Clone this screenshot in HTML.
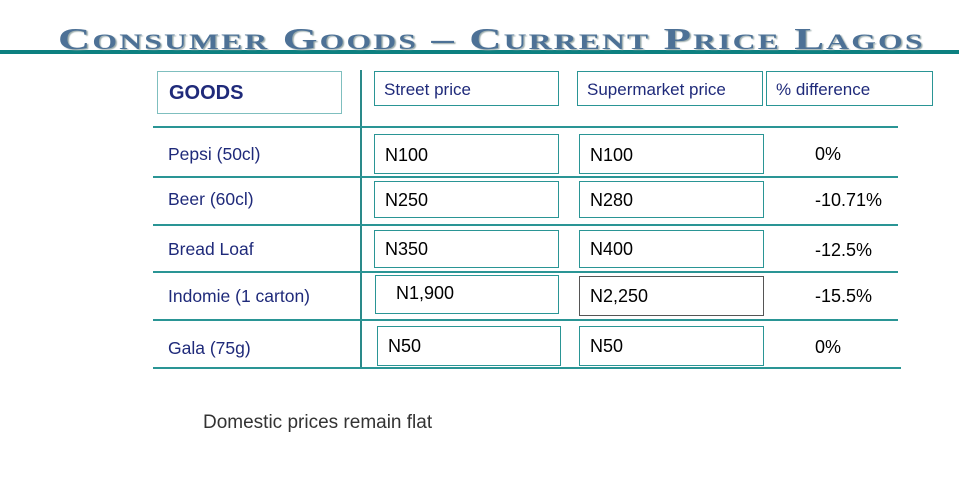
<!DOCTYPE html>
<html><head><meta charset="utf-8"><style>
body{margin:0;width:959px;height:501px;background:#fff;position:relative;overflow:hidden;font-family:"Liberation Sans",sans-serif}
.a{position:absolute}
.t{left:58px;top:21px;font-family:"Liberation Serif",serif;font-weight:bold;font-size:31px;letter-spacing:1.5px;color:#4d7196;text-shadow:1px 1px 1px #9aa;white-space:nowrap;font-variant:small-caps;transform:scaleX(1.44);transform-origin:left}
.bar{left:0;top:50px;width:959px;height:4px;background:#0d8080}
.box{border:1.5px solid #2a9595;box-sizing:border-box}
.h{color:#1f2a7a;font-size:17px;padding:8px 0 0 9px}
.lab{color:#1f2a7a;font-size:17.5px;left:168px}
.v{color:#000;font-size:18px;padding:10px 0 0 10px}
.hl{height:2px;background:#2a9595;left:153px;width:745px}
.p{font-size:18px;color:#000}
</style></head><body>
<div class="a bar"></div>
<div class="a t">Consumer Goods – Current Price Lagos</div>
<div class="a box" style="left:157px;top:71px;width:185px;height:43px;border-color:#7fbfbf"><div style="color:#1f2a7a;font-weight:bold;font-size:20px;padding:10px 0 0 11px">GOODS</div></div>
<div class="a" style="left:360px;top:70px;width:1.5px;height:299px;background:#2a8a8a"></div>
<div class="a box h" style="left:374px;top:71px;width:185px;height:35px">Street price</div>
<div class="a box h" style="left:577px;top:71px;width:186px;height:35px">Supermarket price</div>
<div class="a box h" style="left:766px;top:71px;width:167px;height:35px">% difference</div>
<div class="a hl" style="top:126px"></div>
<div class="a hl" style="top:176px"></div>
<div class="a hl" style="top:224px"></div>
<div class="a hl" style="top:271px"></div>
<div class="a hl" style="top:319px"></div>
<div class="a hl" style="top:367px;width:748px"></div>
<div class="a lab" style="top:144px">Pepsi (50cl)</div>
<div class="a lab" style="top:189px">Beer (60cl)</div>
<div class="a lab" style="top:239px">Bread Loaf</div>
<div class="a lab" style="top:286px">Indomie (1 carton)</div>
<div class="a lab" style="top:338px">Gala (75g)</div>
<div class="a box v" style="left:374px;top:134px;width:185px;height:40px">N100</div>
<div class="a box v" style="left:579px;top:134px;width:185px;height:40px">N100</div>
<div class="a box v" style="left:374px;top:181px;width:185px;height:37px;padding-top:8px">N250</div>
<div class="a box v" style="left:579px;top:181px;width:185px;height:37px;padding-top:8px">N280</div>
<div class="a box v" style="left:374px;top:230px;width:185px;height:38px;padding-top:8px">N350</div>
<div class="a box v" style="left:579px;top:230px;width:185px;height:38px;padding-top:8px">N400</div>
<div class="a box v" style="left:375px;top:275px;width:184px;height:39px;padding:7px 0 0 20px">N1,900</div>
<div class="a box v" style="left:579px;top:276px;width:185px;height:40px;border-color:#555;padding-top:9px">N2,250</div>
<div class="a box v" style="left:377px;top:326px;width:184px;height:40px;padding-top:9px">N50</div>
<div class="a box v" style="left:579px;top:326px;width:185px;height:40px;padding-top:9px">N50</div>
<div class="a p" style="left:815px;top:144px">0%</div>
<div class="a p" style="left:815px;top:190px">-10.71%</div>
<div class="a p" style="left:815px;top:240px">-12.5%</div>
<div class="a p" style="left:815px;top:286px">-15.5%</div>
<div class="a p" style="left:815px;top:337px">0%</div>
<div class="a" style="left:203px;top:412px;font-size:19px;color:#333">Domestic prices remain flat</div>
</body></html>
